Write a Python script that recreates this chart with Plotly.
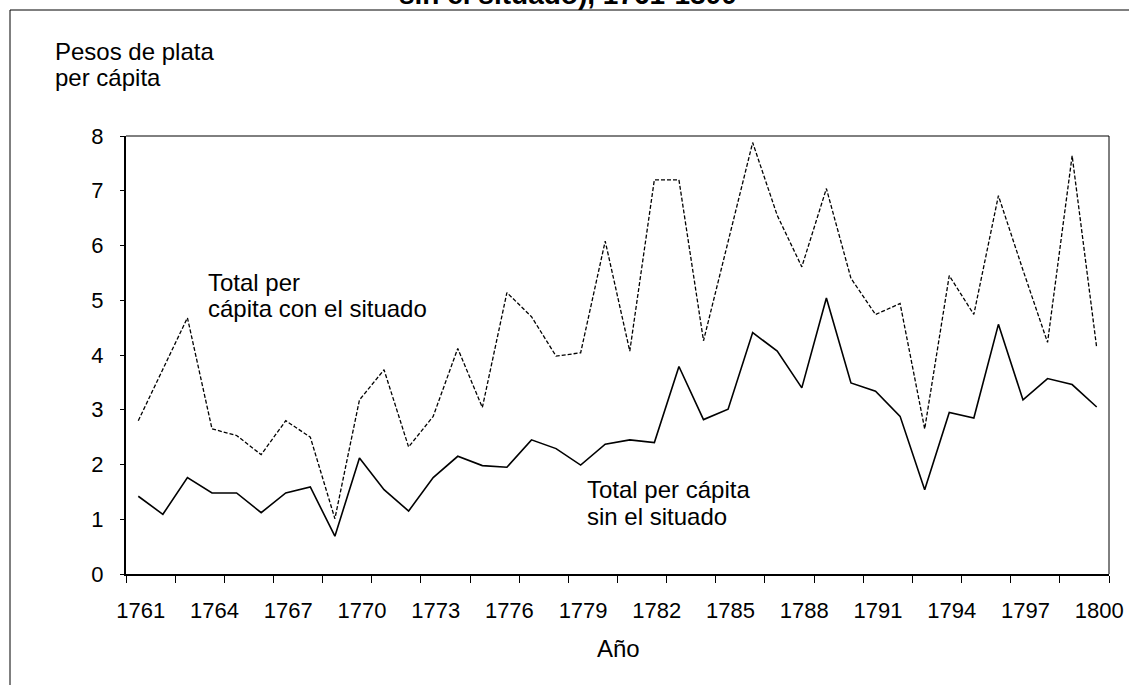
import plotly.graph_objects as go

years = list(range(1761, 1801))
con_situado = [2.80, 3.75, 4.68, 2.65, 2.53, 2.18, 2.80, 2.50, 1.01, 3.18,
               3.73, 2.32, 2.88, 4.12, 3.04, 5.14, 4.70, 3.98, 4.04, 6.08,
               4.07, 7.20, 7.20, 4.26, 6.05, 7.88, 6.55, 5.61, 7.04, 5.40,
               4.74, 4.94, 2.65, 5.45, 4.74, 6.91, 5.55, 4.23, 7.64, 4.13]
sin_situado = [1.42, 1.09, 1.76, 1.48, 1.48, 1.12, 1.48, 1.59, 0.69, 2.12,
               1.54, 1.15, 1.76, 2.15, 1.98, 1.95, 2.45, 2.29, 1.99, 2.37,
               2.45, 2.40, 3.79, 2.82, 3.01, 4.41, 4.07, 3.40, 5.04, 3.49,
               3.34, 2.88, 1.54, 2.95, 2.85, 4.56, 3.18, 3.57, 3.46, 3.05]
label_years = list(range(1761, 1801, 3))
y_ticks = list(range(0, 9))

FONT = "Arial, Liberation Sans, sans-serif"

W, H = 1129, 685
L, R, T, B = 126, 20, 136, 111
pw, ph = W - L - R, H - T - B


def px(x):
    return (x - L) / pw


def py(y):
    return (H - B - y) / ph


fig = go.Figure()
fig.add_trace(go.Scatter(x=years, y=con_situado, mode="lines",
                         line=dict(color="black", width=1.3, dash="4px,2px"),
                         showlegend=False))
fig.add_trace(go.Scatter(x=years, y=sin_situado, mode="lines",
                         line=dict(color="black", width=1.6),
                         showlegend=False))

fig.update_layout(
    width=W, height=H,
    margin=dict(l=L, r=R, t=T, b=B, autoexpand=False),
    paper_bgcolor="white", plot_bgcolor="white",
    font=dict(family=FONT, color="black", size=22),
    showlegend=False,
)
fig.update_xaxes(
    range=[1760.5, 1800.5],
    automargin=False,
    tickmode="array",
    tickvals=[y + 0.1 for y in label_years],
    ticktext=[str(y) for y in label_years],
    ticks="", ticklabelstandoff=16,
    tickfont=dict(size=22),
    showgrid=False, zeroline=False,
    showline=True, linecolor="black", linewidth=2,
    minor=dict(tickmode="array",
               tickvals=[1760.5 + 2 * k for k in range(21)],
               ticks="outside", ticklen=7, tickcolor="black", tickwidth=1,
               showgrid=False),
)
fig.update_yaxes(
    range=[0, 8],
    automargin=False,
    tickmode="array", tickvals=y_ticks,
    ticks="outside", ticklen=4, tickcolor="black",
    ticklabelstandoff=12,
    tickfont=dict(size=22),
    showgrid=False, zeroline=False,
    showline=True, linecolor="black", linewidth=2,
)

shapes = [
    # plot area top/right border
    dict(type="line", xref="paper", yref="paper", x0=0, x1=1, y0=1, y1=1,
         line=dict(color="black", width=1)),
    dict(type="line", xref="paper", yref="paper", x0=1, x1=1, y0=0, y1=1,
         line=dict(color="black", width=1)),
    # outer chart frame (top and left)
    dict(type="line", xref="paper", yref="paper", x0=px(10), x1=px(1135),
         y0=py(10), y1=py(10), line=dict(color="black", width=1)),
    dict(type="line", xref="paper", yref="paper", x0=px(10), x1=px(10),
         y0=py(10), y1=py(700), line=dict(color="black", width=1)),
]
fig.update_layout(shapes=shapes)

annotations = [
    dict(text="<b>sin el situado), 1761-1800</b>", x=px(568), y=py(12),
         xanchor="center", yanchor="bottom", font=dict(size=28)),
    dict(text="Pesos de plata", x=px(53), y=py(51),
         xanchor="left", yanchor="middle", font=dict(size=24)),
    dict(text="per cápita", x=px(53), y=py(77),
         xanchor="left", yanchor="middle", font=dict(size=24)),
    dict(text="Año", x=px(618), y=py(648), xanchor="center",
         yanchor="middle", font=dict(size=24)),
    dict(text="Total per", x=px(206), y=py(282),
         xanchor="left", yanchor="middle", font=dict(size=24)),
    dict(text="cápita con el situado", x=px(206), y=py(308),
         xanchor="left", yanchor="middle", font=dict(size=24)),
    dict(text="Total per cápita", x=px(585), y=py(489),
         xanchor="left", yanchor="middle", font=dict(size=24)),
    dict(text="sin el situado", x=px(585), y=py(516),
         xanchor="left", yanchor="middle", font=dict(size=24)),
]
for a in annotations:
    a.update(xref="paper", yref="paper", showarrow=False)
fig.update_layout(annotations=annotations)

fig.write_html("out.html",
               config={"displayModeBar": False},
               post_script="document.body.style.margin='0px';"
                           "document.body.style.overflow='hidden';")
